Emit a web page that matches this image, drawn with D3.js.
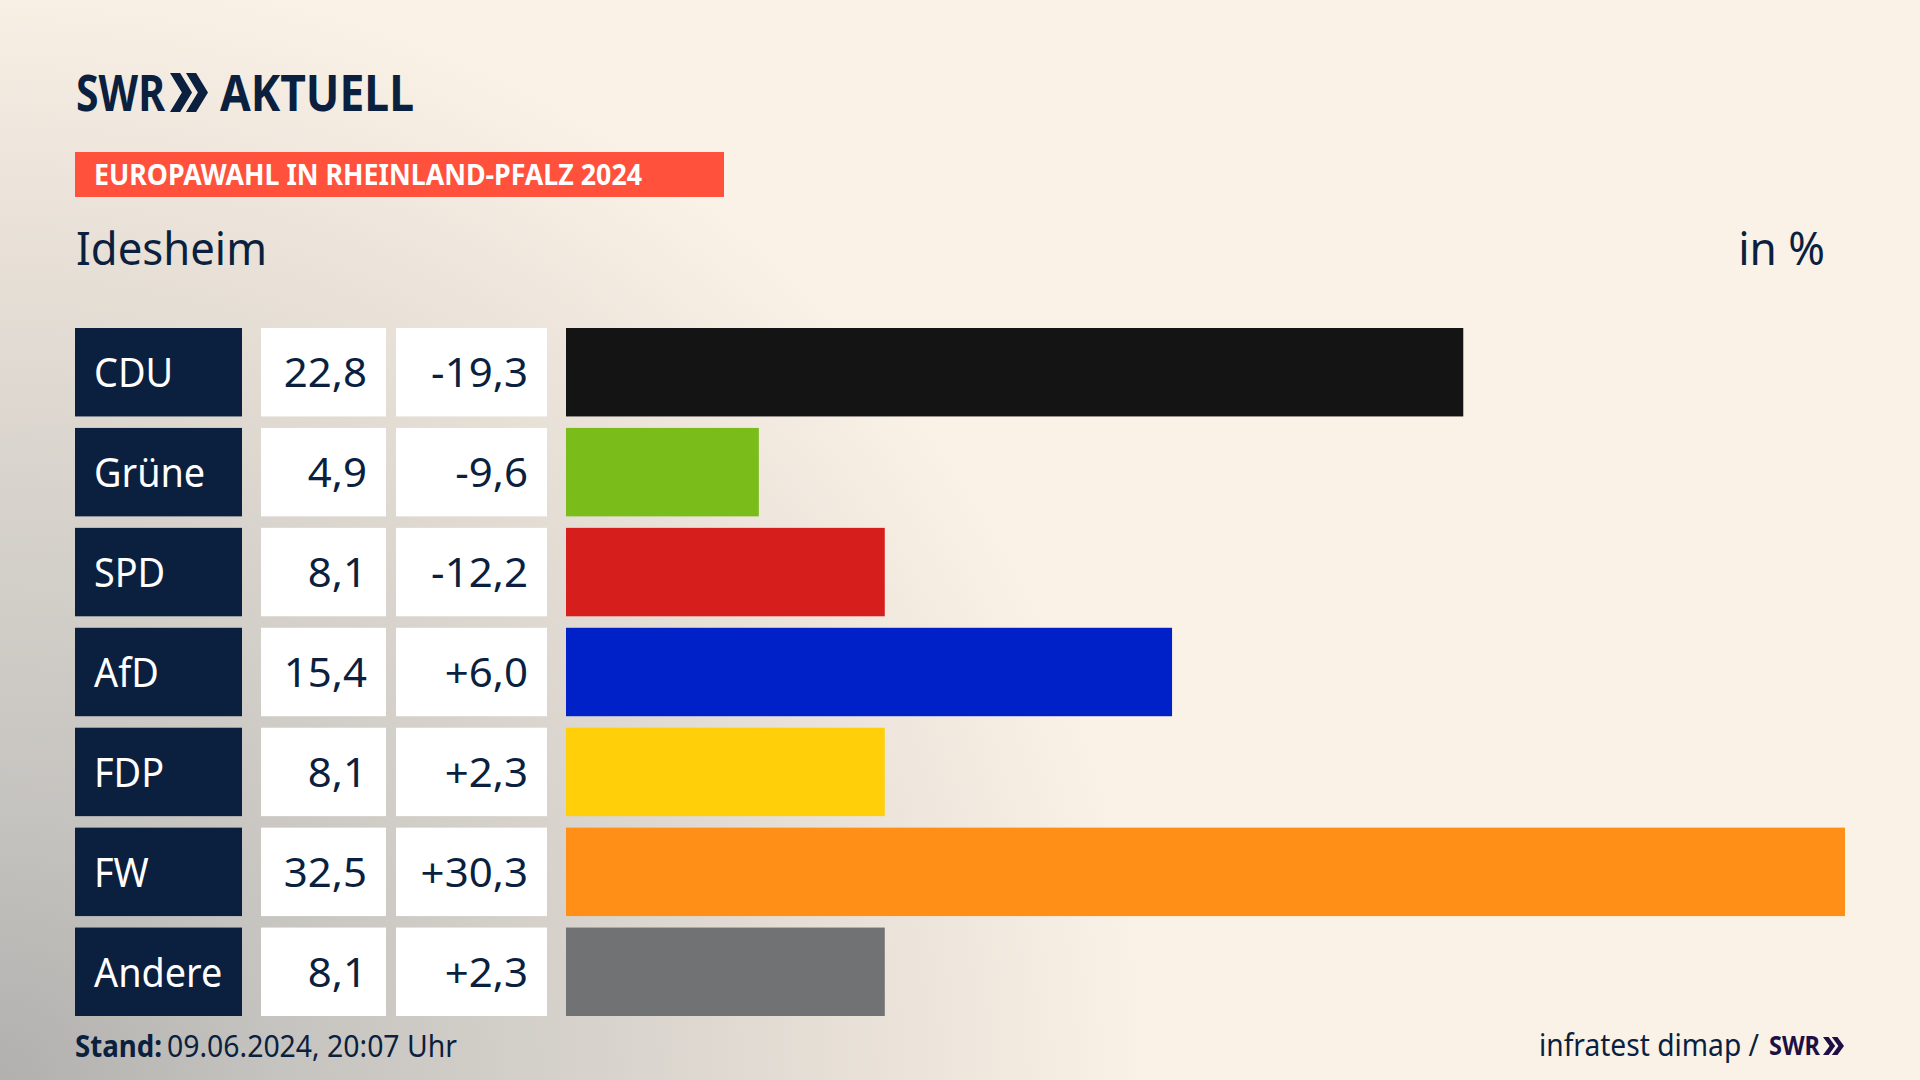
<!DOCTYPE html>
<html>
<head>
<meta charset="utf-8">
<script src="https://cdn.jsdelivr.net/npm/d3@7"></script>
<style>
  body { margin: 0; background: #faf1e7; }
  text { font-family: "Noto Sans", sans-serif; fill: #0b1f3f; }
</style>
</head>
<body>
<script>
var parties = ['CDU', 'Grüne', 'SPD', 'AfD', 'FDP', 'FW', 'Andere'];
var shares = [22.8, 4.9, 8.1, 15.4, 8.1, 32.5, 8.1];
var changes = [-19.3, -9.6, -12.2, 6.0, 2.3, 30.3, 2.3];
var colors = ['#141414', '#7abd1a', '#d61f1c', '#0021c8', '#ffcf0a', '#ff8f17', '#717274'];

var width = 1920, height = 1080;
var navy = '#0b1f3f';

var svg = d3.select('body').append('svg')
    .attr('width', width)
    .attr('height', height)
    .style('display', 'block');

// hintergrund: grauer verlauf von unten links
var grad = svg.append('defs').append('radialGradient')
    .attr('id', 'bg')
    .attr('gradientUnits', 'userSpaceOnUse')
    .attr('cx', 0).attr('cy', 0).attr('r', 1)
    .attr('gradientTransform', 'translate(0,1080) scale(1150,1120)');
[[0, '#b1b0ae'], [0.25, '#c6c4c0'], [0.55, '#d9d4cd'], [0.8, '#ece4da'], [1, '#faf1e7']].forEach(function(s) {
    grad.append('stop').attr('offset', s[0]).attr('stop-color', s[1]);
});
svg.append('rect').attr('width', width).attr('height', height).attr('fill', '#faf1e7');
svg.append('rect').attr('width', width).attr('height', height).attr('fill', 'url(#bg)');

// text auf gewünschte breite bringen (die hausschrift ist schmaler)
function fit(sel, w) {
    sel.attr('textLength', w).attr('lengthAdjust', 'spacingAndGlyphs');
    return sel;
}

// breite relativ zur natürlichen textbreite ändern
function stretch(sel, k) {
    sel.each(function() {
        d3.select(this)
            .attr('textLength', this.getComputedTextLength() * k)
            .attr('lengthAdjust', 'spacingAndGlyphs');
    });
    return sel;
}

function chevrons(x, y, w, h, fill) {
    var cw = w * 0.58, step = w - cw, t = cw * 0.46;
    [0, step].forEach(function(dx) {
        var x0 = x + dx;
        svg.append('path')
            .attr('d', d3.line()([[x0, y], [x0 + t, y], [x0 + cw, y + h / 2], [x0 + t, y + h], [x0, y + h], [x0 + cw - t, y + h / 2]]) + 'Z')
            .attr('fill', fill);
    });
}

// logo
fit(svg.append('text').attr('x', 76).attr('y', 111).attr('font-size', 50).attr('font-weight', 700).text('SWR'), 89);
chevrons(170, 73, 38, 39, navy);
fit(svg.append('text').attr('x', 220).attr('y', 111).attr('font-size', 50).attr('font-weight', 700).text('AKTUELL'), 194);

// rubrik
svg.append('rect').attr('x', 75).attr('y', 152).attr('width', 649).attr('height', 45).attr('fill', '#ff513c');
fit(svg.append('text').attr('x', 94).attr('y', 185).attr('font-size', 28).attr('font-weight', 700)
    .style('fill', '#fff').text('EUROPAWAHL IN RHEINLAND-PFALZ 2024'), 548);

fit(svg.append('text').attr('x', 76).attr('y', 265).attr('font-size', 46).text('Idesheim'), 191);
stretch(svg.append('text').attr('x', 1825).attr('y', 265).attr('font-size', 46).attr('text-anchor', 'end').text('in %'), 0.96);

// skalor
var y = d3.scaleBand().domain(parties).range([328, 1016]).paddingInner(0.115);
var x = d3.scaleLinear().domain([0, 32.5]).range([566, 1845]);

var fmt = function(v) { return d3.format('.1f')(Math.abs(v)).replace('.', ','); };
var fmtChange = function(v) { return (v > 0 ? '+' : '-') + fmt(v); };

var rows = svg.append('g').selectAll('g').data(parties).enter().append('g')
    .attr('transform', function(d) { return 'translate(0,' + y(d) + ')'; });

rows.append('rect').attr('x', 75).attr('width', 167).attr('height', y.bandwidth()).attr('fill', navy);
rows.append('rect').attr('x', 261).attr('width', 125).attr('height', y.bandwidth()).attr('fill', '#fff');
rows.append('rect').attr('x', 396).attr('width', 151).attr('height', y.bandwidth()).attr('fill', '#fff');
rows.append('rect')
    .attr('x', x(0))
    .attr('width', function(d, i) { return x(shares[i]) - x(0); })
    .attr('height', y.bandwidth())
    .attr('fill', function(d, i) { return colors[i]; });

var base = y.bandwidth() / 2 + 15;
stretch(rows.append('text').attr('x', 94).attr('y', base).attr('font-size', 40).style('fill', '#fff')
    .text(function(d) { return d; }), 0.945);
stretch(rows.append('text').attr('x', 367).attr('y', base).attr('font-size', 40).attr('text-anchor', 'end')
    .text(function(d, i) { return fmt(shares[i]); }), 1.05);
stretch(rows.append('text').attr('x', 528).attr('y', base).attr('font-size', 40).attr('text-anchor', 'end')
    .text(function(d, i) { return fmtChange(changes[i]); }), 1.05);

// fusszeile
fit(svg.append('text').attr('x', 75).attr('y', 1057).attr('font-size', 30).attr('font-weight', 700).text('Stand:'), 87);
fit(svg.append('text').attr('x', 167).attr('y', 1057).attr('font-size', 30).text('09.06.2024, 20:07 Uhr'), 290);
fit(svg.append('text').attr('x', 1539).attr('y', 1056).attr('font-size', 30).text('infratest dimap /'), 220);
fit(svg.append('text').attr('x', 1769).attr('y', 1055).attr('font-size', 26).attr('font-weight', 700)
    .style('fill', '#1e0f45').text('SWR'), 51);
chevrons(1823, 1037, 21, 18, '#1e0f45');
</script>
</body>
</html>
